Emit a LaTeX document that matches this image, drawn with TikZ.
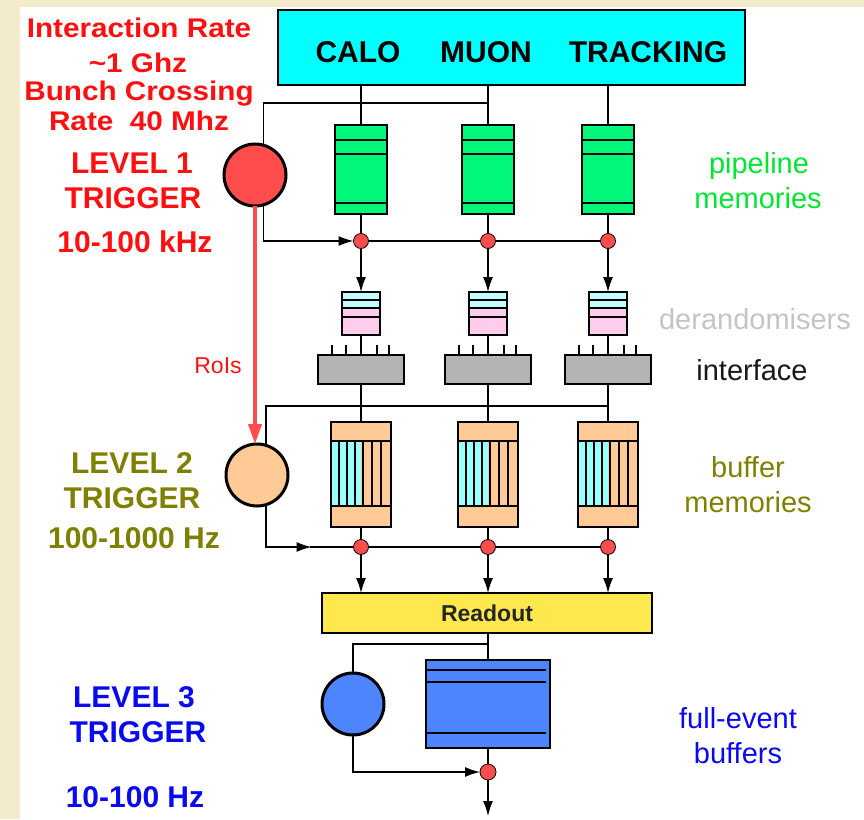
\documentclass[tikz,border=0pt]{standalone}
\usepackage{fontspec}
\setmainfont{Liberation Sans}
\usepackage{graphicx}
\usetikzlibrary{arrows.meta}

\definecolor{beige}{HTML}{F3EBCC}
\definecolor{detcyan}{HTML}{00FFFF}
\definecolor{pipegreen}{HTML}{00F77A}
\definecolor{dotred}{HTML}{FF4D4D}
\definecolor{dercyan}{HTML}{C0FFFF}
\definecolor{derpink}{HTML}{FFCCEE}
\definecolor{ifgray}{HTML}{B3B3B3}
\definecolor{buforange}{HTML}{FFCA96}
\definecolor{bufcyan}{HTML}{99FFFF}
\definecolor{readyellow}{HTML}{FFE84D}
\definecolor{evblue}{HTML}{4D85FF}
\definecolor{txtred}{HTML}{FF1010}
\definecolor{txtolive}{HTML}{808000}
\definecolor{txtblue}{HTML}{0A0AF0}
\definecolor{txtgreen}{HTML}{00E632}
\definecolor{txtgray}{HTML}{C4C4C4}

\begin{document}
\begin{tikzpicture}[
    x=1pt, y=-1pt,
    line width=1.4pt,
    box/.style={draw, line width=1.6pt, inner sep=0pt, outer sep=0pt},
    trig/.style={circle, draw, line width=3pt, minimum size=62pt, inner sep=0pt, outer sep=0pt},
    dot/.style={circle, draw, line width=0.8pt, fill=dotred, minimum size=15pt, inner sep=0pt, outer sep=0pt},
    flow/.style={-{Latex[length=15pt, width=10pt]}},
    roi/.style={line width=4pt, color=dotred, -{Triangle[length=20pt, width=13pt]}},
    lab/.style={anchor=base, inner sep=0pt, font=\fontsize{29}{34}\selectfont},
    blab/.style={anchor=base, inner sep=0pt, font=\fontsize{30}{36}\selectfont\bfseries},
    rlab/.style={anchor=base, inner sep=0pt, text=txtred, font=\fontsize{27}{30}\selectfont\bfseries}
  ]
  \useasboundingbox (0,0) rectangle (864,819);
  \fill[beige] (0,0) rectangle (864,819);
  \fill[white] (20,7) rectangle (864,819);

  % Detectors
  \node[box, fill=detcyan, minimum width=467pt, minimum height=75pt] (det) at (511.5,47.5) {};
  \foreach \t/\x/\n in {CALO/358/1, MUON/486/2, TRACKING/648/3}
    \node[blab] (cap\n) at (\x,62) {\t};

  % Trigger levels
  \node[trig, fill=dotred] (l1) at (255,175) {};
  \node[trig, fill=buforange] (l2) at (257,475) {};
  \node[trig, fill=evblue] (l3) at (353,704) {};

  % Columns
  \foreach \c/\x in {1/361, 2/488, 3/608} {
    \node[box, fill=pipegreen, minimum width=52pt, minimum height=89pt] (p\c) at (\x,169.5) {};
    \foreach \o in {15,29,78}
      \draw ([yshift=-\o pt]p\c.north west) -- ([yshift=-\o pt]p\c.north east);

    \node[dot] (d1\c) at (\x,241) {};

    \node[box, fill=derpink, minimum width=38pt, minimum height=43pt,
      path picture={\fill[dercyan] (path picture bounding box.north west)
        rectangle ([yshift=-16pt]path picture bounding box.north east);}] (dr\c) at (\x,313.5) {};
    \foreach \o in {8,16,25}
      \draw ([yshift=-\o pt]dr\c.north west) -- ([yshift=-\o pt]dr\c.north east);

    \node[box, fill=ifgray, minimum width=86pt, minimum height=29pt] (i\c) at (\x,369.5) {};
    \foreach \o in {-29,-15,16,28}
      \draw ([xshift=\o pt]i\c.north) -- ([xshift=\o pt, yshift=10pt]i\c.north);

    \node[box, fill=buforange, minimum width=60pt, minimum height=105pt,
      path picture={\fill[bufcyan] ([yshift=-19pt]path picture bounding box.north west)
        rectangle ([shift={(30pt,-84pt)}]path picture bounding box.north west);}] (b\c) at (\x,474.5) {};
    \foreach \o in {19,84}
      \draw ([yshift=-\o pt]b\c.north west) -- ([yshift=-\o pt]b\c.north east);
    \foreach \o in {8,16,24,32,41,50}
      \draw ([shift={(\o pt,-19pt)}]b\c.north west) -- ([shift={(\o pt,-84pt)}]b\c.north west);

    \node[dot] (d2\c) at (\x,547) {};
  }

  % Readout and event building
  \node[box, fill=readyellow, minimum width=330pt, minimum height=40pt,
    font=\fontsize{23}{28}\selectfont\bfseries, text=black!85] (ro) at (487,613) {Readout};
  \node[box, fill=evblue, minimum width=124pt, minimum height=88pt] (fb) at (488,704) {};
  \foreach \o in {10,22,73}
    \draw ([yshift=-\o pt]fb.north west) -- ([shift={(-4pt,-\o pt)}]fb.north east);
  \node[dot, minimum size=16pt] (d3) at (488,772) {};

  % Connections
  \coordinate (j1) at (488,103);
  \coordinate (j2) at (608,406);
  \coordinate (j3) at (488,644);
  \coordinate (out) at (488,816);

  \foreach \c in {1,2,3} {
    \draw (p\c.north |- det.south) -- (p\c.north);
    \draw (p\c) -- (d1\c);
    \draw[flow] (d1\c) -- (dr\c);
    \draw (dr\c) -- (i\c);
    \draw (i\c) -- (b\c);
    \draw (b\c) -- (d2\c);
    \draw[flow] (d2\c) -- (d2\c |- ro.north);
  }
  \draw (j1) -| (l1.74);
  \draw[flow] (l1.286) |- (d11.west);
  \draw (d11) -- (d12) -- (d13);

  \draw (j2) -| (l2.73);
  \draw[flow] (l2.287) |- ([xshift=-42pt]d21.west);
  \draw ([xshift=-44pt]d21.west) -- (d21);
  \draw (d21) -- (d22) -- (d23);

  \draw (ro.south -| fb.north) -- (fb.north);
  \draw (j3) -| (l3.north);
  \draw (fb) -- (d3);
  \draw[flow] (l3.south) |- (d3.west);
  \draw[flow] (d3) -- (out);

  \draw[roi] (l1.south) -- (l1.south |- l2.north);
  \node[lab, text=txtred, font=\fontsize{23}{28}\selectfont] (rois) at (218,373) {RoIs};

  % Left labels
  \node[rlab] (rate1) at (139,37.7) {\scalebox{1.1}[1]{Interaction Rate}};
  \node[rlab] (rate2) at (138,72.5) {\scalebox{1.1}[1]{\textasciitilde1 Ghz}};
  \node[rlab] (rate3) at (139,100) {\scalebox{1.1}[1]{Bunch Crossing}};
  \node[rlab] (rate4) at (139,130) {\scalebox{1.1}[1]{Rate\ \ 40 Mhz}};

  \node[blab, text=txtred] (lv1a) at (132,173) {LEVEL 1};
  \node[blab, text=txtred] (lv1b) at (133,208) {TRIGGER};
  \node[blab, text=txtred] (lv1c) at (135,252) {10-100 kHz};

  \node[blab, text=txtolive] (lv2a) at (132,473) {LEVEL 2};
  \node[blab, text=txtolive] (lv2b) at (132,508) {TRIGGER};
  \node[blab, text=txtolive] (lv2c) at (134,548) {100-1000 Hz};

  \node[blab, text=txtblue] (lv3a) at (134,707) {LEVEL 3};
  \node[blab, text=txtblue] (lv3b) at (138,742) {TRIGGER};
  \node[blab, text=txtblue] (lv3c) at (135,807) {10-100 Hz};

  % Right labels
  \node[lab, text=txtgreen] (pipe1) at (759,173) {pipeline};
  \node[lab, text=txtgreen] (pipe2) at (758,208) {memories};
  \node[lab, text=txtgray] (derand) at (755,329) {derandomisers};
  \node[lab, text=black!90] (iface) at (752,380) {interface};
  \node[lab, text=txtolive] (buf1) at (748,477) {buffer};
  \node[lab, text=txtolive] (buf2) at (748,512) {memories};
  \node[lab, text=txtblue] (full1) at (738,728) {full-event};
  \node[lab, text=txtblue] (full2) at (738,763) {buffers};
\end{tikzpicture}
\end{document}
